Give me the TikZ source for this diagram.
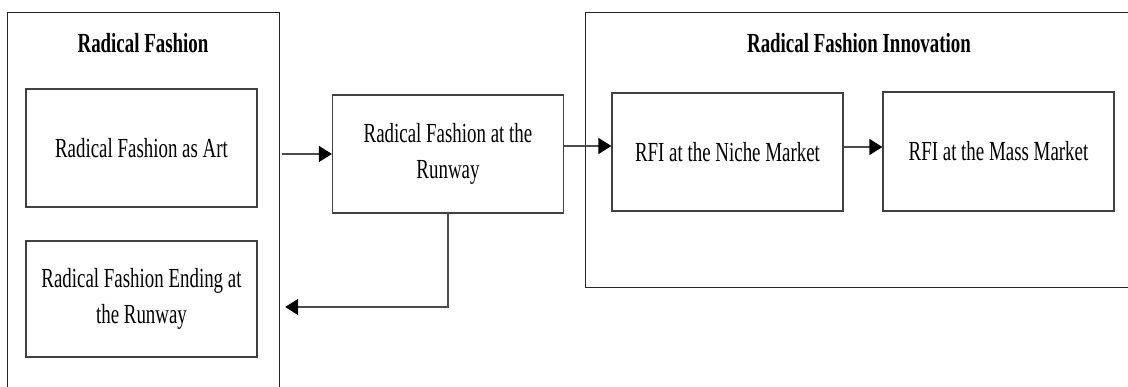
\documentclass[tikz,border=0pt]{standalone}
\usepackage{fontspec}
\setmainfont{Liberation Serif}[FakeStretch=0.685]
\usetikzlibrary{arrows.meta}
\begin{document}
\begin{tikzpicture}[x=1pt,y=-1pt,
  every node/.style={font=\fontsize{27.6}{36}\selectfont},
  box/.style={draw=black!75, line width=1.2pt, minimum width=231pt, minimum height=118pt, align=center, inner sep=0pt},
  frame/.style={draw=black!85, line width=1.2pt, inner sep=0pt},
  ttl/.style={font=\fontsize{27.6}{36}\selectfont\bfseries},
  conn/.style={draw=black!70, line width=1.3pt},
  arr/.style={conn, -{Triangle[length=13pt,width=16pt,color=black]}}]
\useasboundingbox (0,0) rectangle (1128,387);
\clip (0,0) rectangle (1128,387);
\fill[white] (0,0) rectangle (1128,387);
% containers
\node[frame, minimum width=272pt, minimum height=420pt, anchor=north west] (leftbox) at (7,12) {};
\node[frame, minimum width=620pt, minimum height=275pt, anchor=north west] (rightbox) at (585,12) {};
\node[ttl] (t1) at (143,43) {Radical Fashion};
\node[ttl] (t2) at (859,43) {Radical Fashion Innovation};
% boxes
\node[box] (art) at (141.5,148) {Radical Fashion as Art};
\node[box, minimum height=116pt] (ending) at (141.5,299) {Radical Fashion Ending at\\the Runway};
\node[box] (runway) at (448,154) {Radical Fashion at the\\Runway};
\node[box, minimum height=118pt] (niche) at (727.5,152) {RFI at the Niche Market};
\node[box, minimum height=119pt] (mass) at (998.5,151.5) {RFI at the Mass Market};
% connectors
\coordinate (a0) at ([xshift=2pt]leftbox.east |- runway.west);
\draw[arr] (a0) -- (runway.west);
\draw[arr] (runway.east |- 0,146) -- (niche.west |- 0,146);
\draw[arr] (niche.east |- 0,147) -- (mass.west |- 0,147);
\coordinate (tipend) at ([xshift=5pt]leftbox.east |- 0,307);
\draw[arr] (runway.south) -- (runway.south |- tipend) -- (tipend);
\end{tikzpicture}
\end{document}
